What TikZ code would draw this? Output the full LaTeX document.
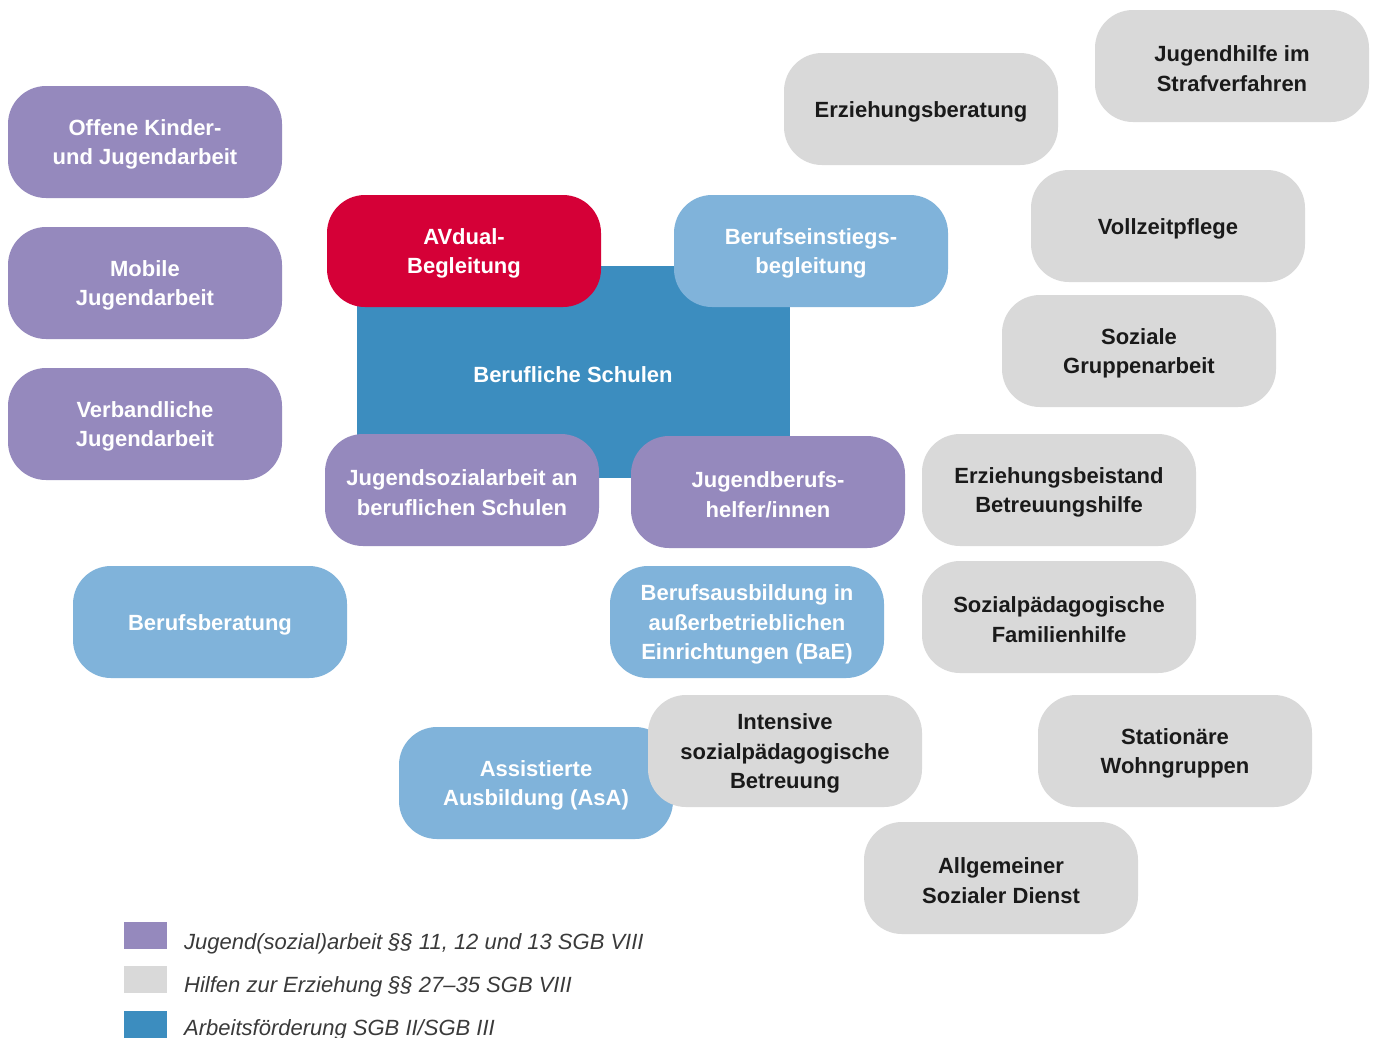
\documentclass[tikz,border=0pt]{standalone}
\usepackage{fontspec}
\setmainfont{Liberation Sans}
\definecolor{lila}{HTML}{9589BD}
\definecolor{grau}{HTML}{D9D9D9}
\definecolor{blau}{HTML}{3C8DBF}
\definecolor{hellblau}{HTML}{80B3DA}
\definecolor{rot}{HTML}{D50037}
\definecolor{txt}{HTML}{1A1A1A}
\definecolor{legtxt}{HTML}{3A3A3A}
\tikzset{
  boxtext/.style={align=center, inner sep=0pt, yshift=-2.5pt,
    font=\fontsize{22}{29.5}\selectfont\bfseries},
  box/.style={rounded corners=38pt, minimum width=274pt, minimum height=112pt, inner sep=0pt},
  lilabox/.style={box, fill=lila, label={[boxtext, text=white]center:#1}},
  graubox/.style={box, fill=grau, label={[boxtext, text=txt]center:#1}},
  hellbox/.style={box, fill=hellblau, label={[boxtext, text=white]center:#1}},
  rotbox/.style={box, fill=rot, label={[boxtext, text=white]center:#1}},
  legsq/.style={minimum width=43pt, minimum height=27pt, inner sep=0pt},
  legtext/.style={anchor=base west, inner sep=0pt, text=legtxt, font=\fontsize{22}{25}\selectfont\itshape}
}
\begin{document}
\begin{tikzpicture}[x=1pt,y=-1pt]
\useasboundingbox (0,0) rectangle (1375,1037);
\fill[white] (0,0) rectangle (1375,1037);
% central rectangle
\node[fill=blau, minimum width=433pt, minimum height=212pt, inner sep=0pt,
  label={[boxtext, text=white]center:Berufliche Schulen}] (bs) at (573,372) {};
% left column
\node[lilabox={Offene Kinder-\\und Jugendarbeit}] (okj) at (145,142) {};
\node[lilabox={Mobile\\Jugendarbeit}] (mj) at (145,283) {};
\node[lilabox={Verbandliche\\Jugendarbeit}] (vj) at (145,424) {};
% around the school
\node[rotbox={AVdual-\\Begleitung}] (av) at (464,251) {};
\node[hellbox={Berufseinstiegs-\\begleitung}] (beb) at (811,251) {};
\node[lilabox={Jugendsozialarbeit an\\beruflichen Schulen}] (jsa) at (462,490) {};
\node[lilabox={Jugendberufs-\\helfer/innen}] (jbh) at (768,492) {};
\node[hellbox={Berufsberatung}] (bb) at (210,622) {};
\node[hellbox={Berufsausbildung in\\außerbetrieblichen\\Einrichtungen (BaE)}] (bae) at (747,622) {};
\node[hellbox={Assistierte\\Ausbildung (AsA)}] (asa) at (536,783) {};
\node[graubox={Intensive\\sozialpädagogische\\Betreuung}] (isb) at (785,751) {};
% right side
\node[graubox={Erziehungsberatung}] (eb) at (921,109) {};
\node[graubox={Jugendhilfe im\\Strafverfahren}] (jhs) at (1232,66) {};
\node[graubox={Vollzeitpflege}] (vzp) at (1168,226) {};
\node[graubox={Soziale\\Gruppenarbeit}] (sga) at (1139,351) {};
\node[graubox={Erziehungsbeistand\\Betreuungshilfe}] (ebh) at (1059,490) {};
\node[graubox={Sozialpädagogische\\Familienhilfe}] (spf) at (1059,617) {};
\node[graubox={Stationäre\\Wohngruppen}] (swg) at (1175,751) {};
\node[graubox={Allgemeiner\\Sozialer Dienst}] (asd) at (1001,878) {};
% legend
\node[legsq, fill=lila] (l1) at (145.5,935) {};
\node[legsq, fill=grau] (l2) at (145.5,979) {};
\node[legsq, fill=blau] (l3) at (145.5,1024) {};
\node[legtext] (t1) at (184,949) {Jugend(sozial)arbeit §§ 11, 12 und 13 SGB VIII};
\node[legtext] (t2) at (184,992) {Hilfen zur Erziehung §§ 27–35 SGB VIII};
\node[legtext] (t3) at (184,1035) {Arbeitsförderung SGB II/SGB III};
\end{tikzpicture}
\end{document}
